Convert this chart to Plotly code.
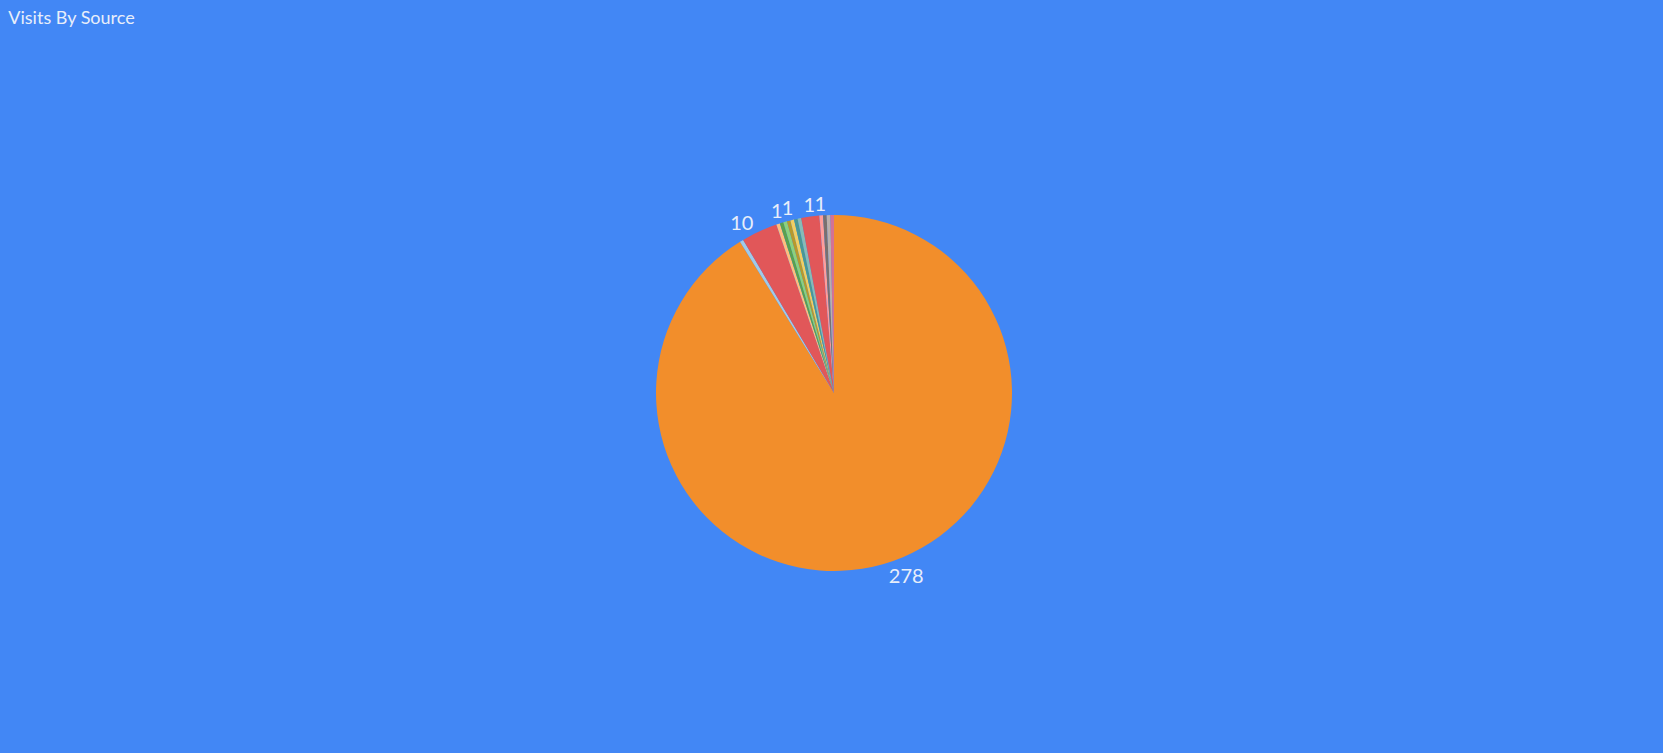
import plotly.graph_objects as go

sources = ["Direct", "Source B", "Source C", "Source D", "Source E", "Source F",
           "Source G", "Source H", "Source I", "Source J", "Source K", "Source L",
           "Source M", "Source N", "Source O"]
visits = [278, 1, 10, 1, 1, 1, 1, 1, 1, 1, 5, 1, 1, 1, 1]
colors = ["#F28E2B", "#A0CBE8", "#E15759", "#FFBE7D", "#59A14F", "#8CD17D", "#B6992D",
          "#F1CE63", "#499894", "#86BCB6", "#E15759", "#FF9D9A", "#79706E", "#BAB0AC", "#D37295"]
# slices whose value label is shown; each label group is drawn in its own layer
label_groups = [[0, 2], [6], [9], [11], [14]]

bg = "#4287F5"
W, H = 1663, 753
cx, cy, r = 834, 393, 178
domain = dict(x=[(cx - r) / W, (cx + r) / W], y=[(H - cy - r) / H, (H - cy + r) / H])
font = dict(family="Lato", size=20, color="#E8EEFA")

fig = go.Figure()
for gi, group in enumerate(label_groups):
    texts = [str(v) if i in group else "" for i, v in enumerate(visits)]
    fig.add_trace(go.Pie(
        labels=sources,
        values=visits,
        text=texts,
        textinfo="text",
        textposition="outside",
        sort=False,
        direction="clockwise",
        rotation=0,
        marker=dict(colors=colors if gi == 0 else ["rgba(0,0,0,0)"] * len(visits),
                    line=dict(width=0)),
        textfont=font,
        showlegend=False,
        hoverinfo="label+value" if gi == 0 else "skip",
        domain=domain,
    ))

fig.update_layout(
    width=W, height=H,
    margin=dict(l=0, r=0, t=0, b=0),
    paper_bgcolor=bg, plot_bgcolor=bg,
    title=dict(text="Visits By Source", x=0.005, xanchor="left", y=0.977, yanchor="middle",
               font=dict(family="Lato", size=18, color="#E8EEFA")),
)

fig.write_html("out.html")
